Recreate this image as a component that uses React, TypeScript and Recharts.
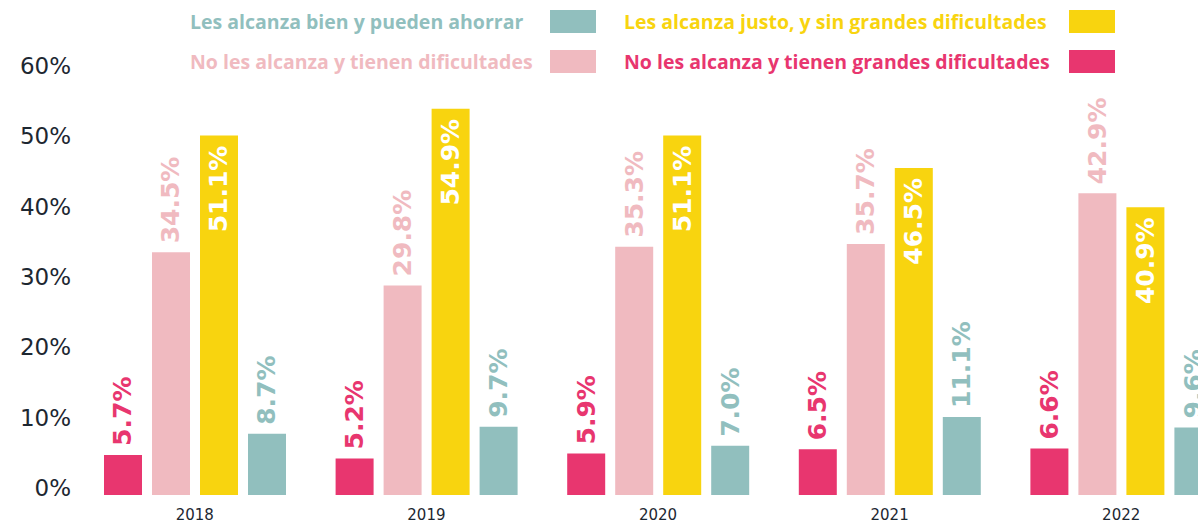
import React from 'react'
import { BarChart, Bar, XAxis, YAxis, Legend, LabelList } from 'recharts'

const years = ['2018', '2019', '2020', '2021', '2022']
const grandesDificultades = [5.7, 5.2, 5.9, 6.5, 6.6]
const dificultades = [34.5, 29.8, 35.3, 35.7, 42.9]
const justo = [51.1, 54.9, 51.1, 46.5, 40.9]
const bien = [8.7, 9.7, 7.0, 11.1, 9.6]
const yTicks = [0, 10, 20, 30, 40, 50, 60]

const series = [
  { key: 'grandes', name: 'No les alcanza y tienen grandes dificultades', color: '#E8366F', inside: false },
  { key: 'dificultades', name: 'No les alcanza y tienen dificultades', color: '#F0BAC0', inside: false },
  { key: 'justo', name: 'Les alcanza justo, y sin grandes dificultades', color: '#F8D40F', inside: true },
  { key: 'bien', name: 'Les alcanza bien y pueden ahorrar', color: '#91BFBE', inside: false },
]

// legend reads row by row: teal, yellow / pink, magenta
const legendOrder = ['bien', 'justo', 'dificultades', 'grandes']

const data = years.map((year, i) => ({
  year,
  grandes: grandesDificultades[i],
  dificultades: dificultades[i],
  justo: justo[i],
  bien: bien[i],
}))

const makeLabel = (color: string, inside: boolean) => (props: any) => {
  const { x, y, width, value } = props
  const cx = Number(x) + Number(width) / 2
  const ty = inside ? Number(y) + 10 : Number(y) - 9
  return (
    <text
      x={cx}
      y={ty}
      transform={`rotate(-90, ${cx}, ${ty})`}
      textAnchor={inside ? 'end' : 'start'}
      dominantBaseline="central"
      fill={inside ? '#ffffff' : color}
      fontFamily="'DejaVu Sans', sans-serif"
      fontWeight={700}
      fontSize={25}
    >
      {`${Number(value).toFixed(1)}%`}
    </text>
  )
}

const YTick = ({ x, y, payload }: any) => (
  <text
    x={x}
    y={y}
    dy={-7}
    textAnchor="end"
    dominantBaseline="central"
    fill="#1d2731"
    fontFamily="'DejaVu Sans', sans-serif"
    fontSize={23}
  >
    {`${payload.value}%`}
  </text>
)

const ChartLegend = () => {
  const items = legendOrder.map(k => series.find(s => s.key === k)!)
  return (
    <div
      style={{
        display: 'grid',
        gridTemplateColumns: '406px 491px',
        columnGap: 28,
        rowGap: 17,
        paddingLeft: 190,
        paddingTop: 10,
      }}
    >
      {items.map(item => (
        <div
          key={item.key}
          style={{ display: 'flex', justifyContent: 'space-between', alignItems: 'center', height: 23 }}
        >
          <span
            style={{
              color: item.color,
              fontFamily: "'Open Sans', sans-serif",
              fontWeight: 700,
              fontSize: 19.5,
              whiteSpace: 'nowrap',
            }}
          >
            {item.name}
          </span>
          <span style={{ width: 46, height: 23, background: item.color, display: 'inline-block', flexShrink: 0 }} />
        </div>
      ))}
    </div>
  )
}

const App = () => {
  return (
    <div style={{ position: 'absolute', left: 0, top: 0, width: 1198, height: 523, overflow: 'hidden', background: '#fff' }}>
      <BarChart
        width={1250}
        height={523}
        data={data}
        margin={{ top: 73, right: 13, left: 0, bottom: 0 }}
        barSize={38}
        barGap={10}
      >
        <XAxis
          dataKey="year"
          axisLine={false}
          tickLine={false}
          tickSize={0}
          tickMargin={14}
          height={28}
          tick={{ fill: '#1d2731', fontSize: 15, fontFamily: "'DejaVu Sans', sans-serif" }}
        />
        <YAxis
          domain={[0, 60]}
          ticks={yTicks}
          width={79}
          axisLine={false}
          tickLine={false}
          tick={<YTick />}
          interval={0}
        />
        <Legend
          verticalAlign="top"
          align="left"
          content={() => <ChartLegend />}
          wrapperStyle={{ top: 0, left: 0, width: 1198, height: 0 }}
        />
        {series.map(s => (
          <Bar key={s.key} dataKey={s.key} name={s.name} fill={s.color} isAnimationActive={false}>
            <LabelList dataKey={s.key} content={makeLabel(s.color, s.inside)} />
          </Bar>
        ))}
      </BarChart>
    </div>
  )
}

export default App
